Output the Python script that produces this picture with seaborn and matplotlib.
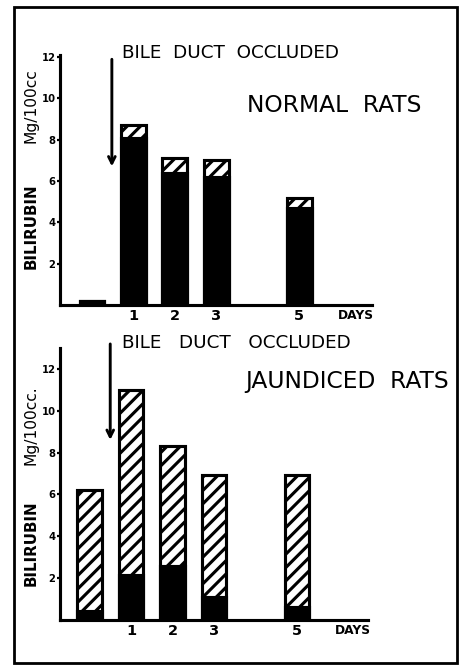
import numpy as np
import pandas as pd
import matplotlib.pyplot as plt
import matplotlib.patches as mpatches
import seaborn as sns

days = [0, 1, 2, 3, 5]
day_ticks = [1, 2, 3, 5]
y_ticks = [2, 4, 6, 8, 10, 12]

normal_total = [0.2, 8.7, 7.1, 7.0, 5.2]
normal_black = [0.2, 8.1, 6.4, 6.2, 4.7]

jaundiced_total = [6.2, 11.0, 8.3, 6.95, 6.95]
jaundiced_black = [0.45, 2.15, 2.6, 1.1, 0.6]

sns.set_style("white")
plt.rcParams["font.family"] = ["DejaVu Sans"]
plt.rcParams["hatch.linewidth"] = 2.8
plt.rcParams["hatch.color"] = "black"
for k in ["text.color", "axes.labelcolor", "xtick.color", "ytick.color"]:
    plt.rcParams[k] = "black"

W, H, DPI = 466, 666, 80
fig = plt.figure(figsize=(W / DPI, H / DPI), dpi=DPI)
fig.patch.set_facecolor("white")


def fx(px):
    return px / W


def fy(py):
    return 1 - py / H


def draw_panel(ax, total, black, ytop, xlim):
    df = pd.DataFrame({"day": days, "total": total, "black": black})
    sns.barplot(data=df, x="day", y="total", native_scale=True, width=0.6,
                color="white", saturation=1, edgecolor="black", linewidth=2.8,
                hatch="//", errorbar=None, ax=ax)
    sns.barplot(data=df, x="day", y="black", native_scale=True, width=0.6,
                color="black", saturation=1, edgecolor="black", linewidth=2.8,
                errorbar=None, ax=ax)
    ax.set_xlim(*xlim)
    ax.set_ylim(0, ytop)
    ax.set_yticks(y_ticks)
    ax.set_yticklabels([str(t) for t in y_ticks], fontsize=9, fontweight="bold")
    ax.set_xticks(day_ticks + [6.35])
    ax.set_xticklabels([str(t) for t in day_ticks] + ["DAYS"], fontweight="bold")
    for lab in ax.get_xticklabels()[:-1]:
        lab.set_fontsize(13)
    ax.get_xticklabels()[-1].set_fontsize(11)
    ax.tick_params(axis="x", length=0, pad=4)
    ax.tick_params(axis="y", length=3, width=2, pad=1, direction="out", left=True)
    ax.set_xlabel("")
    ax.set_ylabel("")
    sns.despine(ax=ax)
    for s in ["left", "bottom"]:
        ax.spines[s].set_linewidth(2.8)
        ax.spines[s].set_color("black")
    ax.set_facecolor("none")


# top panel: normal rats
ax1 = fig.add_axes([fx(60), fy(305), fx(372) - fx(60), fy(55) - fy(305)])
draw_panel(ax1, normal_total, normal_black, 12.1, (-0.77, 6.75))
ax1.annotate("", xy=(0.48, 6.6), xytext=(0.48, 12.0),
             arrowprops=dict(arrowstyle="->,head_length=0.6,head_width=0.3",
                             lw=2.6, color="black"))
ax1.text(0.72, 12.2, "BILE  DUCT  OCCLUDED", fontsize=16.5,
         va="center", ha="left")
ax1.text(3.73, 9.65, "NORMAL  RATS", fontsize=21, va="center", ha="left")

# bottom panel: jaundiced rats
ax2 = fig.add_axes([fx(60), fy(620), fx(368) - fx(60), fy(348) - fy(620)])
draw_panel(ax2, jaundiced_total, jaundiced_black, 13.0, (-0.71, 6.71))
ax2.annotate("", xy=(0.5, 8.5), xytext=(0.5, 13.3),
             arrowprops=dict(arrowstyle="->,head_length=0.6,head_width=0.3",
                             lw=2.6, color="black"), annotation_clip=False)
ax2.text(0.78, 13.25, "BILE   DUCT   OCCLUDED", fontsize=16.5,
         va="center", ha="left")
ax2.text(3.75, 11.4, "JAUNDICED  RATS", fontsize=21, va="center", ha="left")

# y labels
fig.text(fx(31), fy(226), "BILIRUBIN", rotation=90, fontsize=13.5,
         fontweight="bold", ha="center", va="center")
fig.text(fx(31), fy(106), "Mg/100cc", rotation=90, fontsize=14,
         ha="center", va="center")
fig.text(fx(31), fy(543), "BILIRUBIN", rotation=90, fontsize=13.5,
         fontweight="bold", ha="center", va="center")
fig.text(fx(31), fy(425), "Mg/100cc.", rotation=90, fontsize=14,
         ha="center", va="center")

# outer frame
fig.patches.append(mpatches.Rectangle((fx(14), fy(663)), fx(457) - fx(14),
                                      fy(7) - fy(663), transform=fig.transFigure,
                                      fill=False, lw=2.5, edgecolor="black"))

fig.savefig("out.png", dpi=DPI)
